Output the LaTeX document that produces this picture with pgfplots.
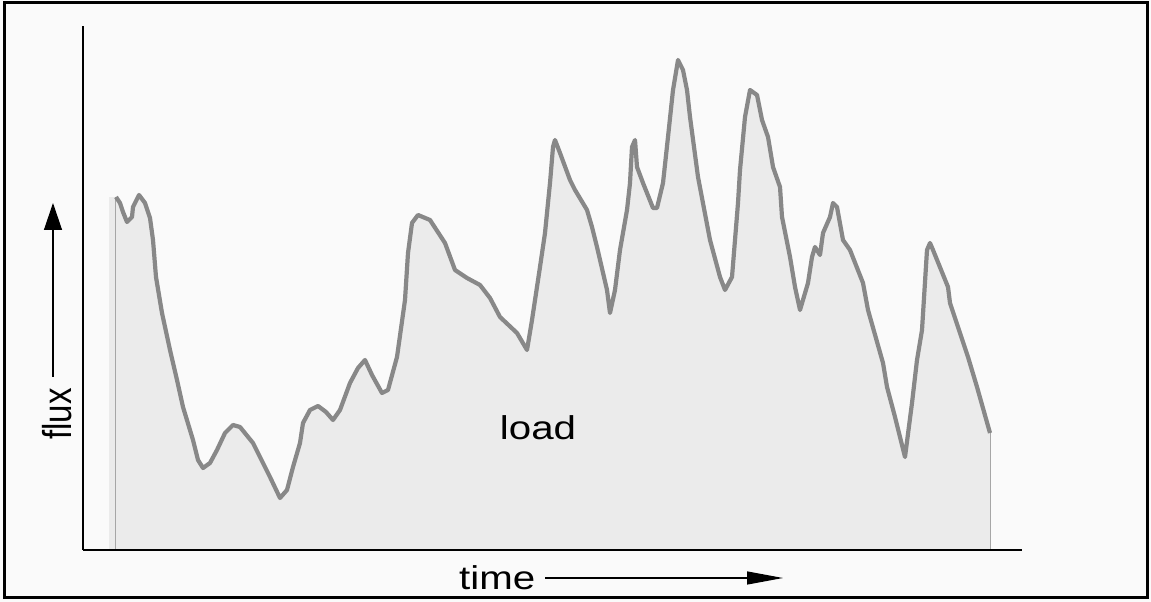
\documentclass[border=0pt]{standalone}
\usepackage{pgfplots}
\pgfplotsset{compat=1.18}
\usepackage{pgfplotstable}
\usepackage{fontspec}
\setmainfont{Liberation Sans}
\usetikzlibrary{arrows.meta}

\definecolor{bg}{HTML}{FAFAFA}
\definecolor{loadfill}{HTML}{EBEBEB}
\definecolor{loadline}{HTML}{888888}

% x = pixel column, y = pixel row (top down)
\pgfplotstableread{
x y
116 197
120 203
123 212
127 222
132 217
133 207
139 195
145 203
150 218
153 240
156 277
162 313
170 350
177 380
183 407
193 440
198 460
203 468
210 463
217 450
225 433
233 425
240 427
253 443
260 457
270 477
280 498
287 490
293 467
300 443
303 423
310 410
318 406
326 412
333 420
340 410
350 383
358 368
365 360
372 375
382 393
388 390
397 357
405 300
408 253
412 223
418 215
430 220
445 243
455 270
467 278
480 285
490 298
500 317
517 333
527 350
532 320
540 267
545 233
550 183
553 147
555 140
560 153
570 180
575 190
587 210
592 227
597 247
607 290
610 313
615 290
620 250
627 210
630 183
632 147
635 140
637 167
643 183
653 208
657 208
663 183
668 137
673 90
678 60
683 70
687 90
690 117
698 177
710 240
720 277
725 290
732 277
738 203
740 170
745 117
750 90
757 95
762 120
768 137
773 167
780 187
782 217
790 257
795 287
800 310
808 283
812 257
815 247
820 255
823 233
830 217
833 203
837 207
843 240
850 250
863 283
868 310
883 363
887 387
895 417
905 457
912 403
917 360
922 330
927 250
930 243
933 250
948 287
950 303
968 357
977 387
990 433
}\loaddata

\begin{document}
\fontsize{33}{40}\selectfont
\begin{tikzpicture}
\begin{axis}[
    x=1pt, y=1pt,
    xmin=83, xmax=1022,
    ymin=0, ymax=524,
    axis lines=left,
    axis line style={-, line width=1.3pt, black},
    ticks=none,
    clip=false,
    axis on top]
% page background and frame
\fill[bg] (axis cs:0,550) rectangle (axis cs:1151,-52);
% load area
\addplot[draw=none, fill=loadfill] coordinates {(109,353) (116,353)} \closedcycle;
\addplot[draw=none, fill=loadfill] table[x=x, y expr=550-\thisrow{y}] {\loaddata} \closedcycle;
\addplot[color=gray!70, line width=1pt] coordinates {(116,353) (116,0)};
\addplot[color=gray!70, line width=1pt] coordinates {(990,117) (990,0) (109,0)};
\addplot[color=loadline, line width=4.2pt, line join=round] table[x=x, y expr=550-\thisrow{y}] {\loaddata};
\node[inner sep=0pt] at (axis cs:538,122) {\scalebox{1.22}[1]{load}};
% axis captions
\node[inner sep=0pt, anchor=base west] at (axis cs:459,-40) {\scalebox{1.22}[1]{time}};
\draw[line width=1.3pt, -{Triangle[length=36pt, width=13pt]}] (axis cs:545,-28) -- (axis cs:783,-28);
\node[inner sep=0pt] at (axis cs:57,136) {\scalebox{1.22}[1]{\rotatebox{90}{flux}}};
\draw[line width=1.3pt, -{Triangle[length=27pt, width=18pt]}] (axis cs:53,173) -- (axis cs:53,347);
\draw[line width=3pt, black] (axis cs:5,547) rectangle (axis cs:1147,-48);
\path (axis cs:0,550) rectangle (axis cs:1151,-52);
\end{axis}
\end{tikzpicture}
\end{document}
